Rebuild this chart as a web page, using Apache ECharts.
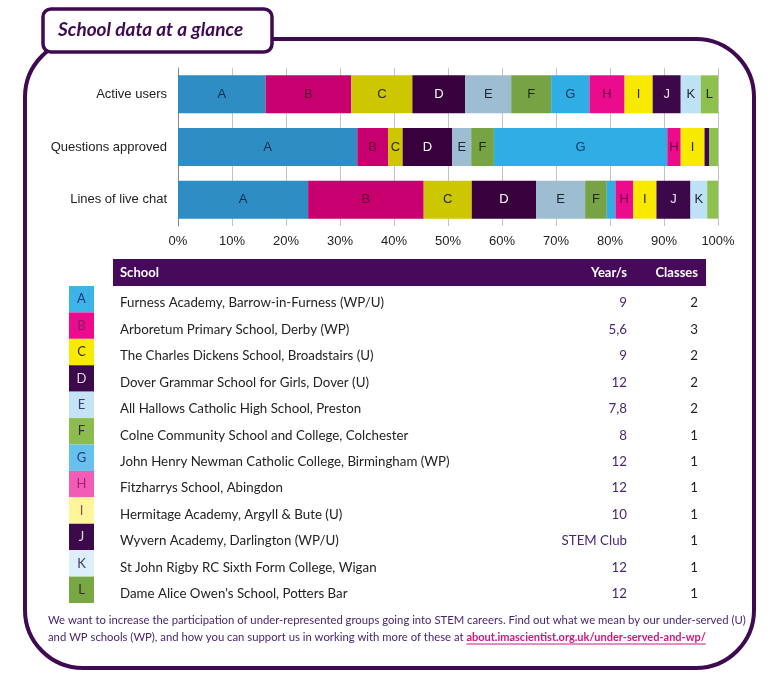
<!DOCTYPE html>
<html>
<head>
<meta charset="utf-8">
<script src="https://cdn.jsdelivr.net/npm/echarts@6/dist/echarts.min.js"></script>
<style>html,body{margin:0;padding:0;background:#fff;}#c{width:775px;height:677px;}</style>
</head>
<body>
<div id="c"></div>
<script>
// ---- data ----
const categories = ['Active users', 'Questions approved', 'Lines of live chat'];
const letters = ['A', 'B', 'C', 'D', 'E', 'F', 'G', 'H', 'I', 'J', 'K', 'L'];
const activeUsers = [16.2, 15.9, 11.3, 9.8, 8.5, 7.4, 7.1, 6.5, 5.2, 5.2, 3.7, 3.2];
const questionsApproved = [33.2, 5.7, 2.7, 9.2, 3.5, 4.2, 32.1, 2.5, 4.4, 0.9, 0, 1.6];
const liveChat = [24.1, 21.4, 8.9, 11.9, 9.1, 4.0, 1.6, 3.3, 4.3, 6.3, 3.1, 2.0];

const schools = [
  'Furness Academy, Barrow-in-Furness (WP/U)',
  'Arboretum Primary School, Derby (WP)',
  'The Charles Dickens School, Broadstairs (U)',
  'Dover Grammar School for Girls, Dover (U)',
  'All Hallows Catholic High School, Preston',
  'Colne Community School and College, Colchester',
  'John Henry Newman Catholic College, Birmingham (WP)',
  'Fitzharrys School, Abingdon',
  'Hermitage Academy, Argyll & Bute (U)',
  'Wyvern Academy, Darlington (WP/U)',
  'St John Rigby RC Sixth Form College, Wigan',
  "Dame Alice Owen's School, Potters Bar"
];
const years = ['9', '5,6', '9', '12', '7,8', '8', '12', '12', '10', 'STEM Club', '12', '12'];
const classes = ['2', '3', '2', '2', '2', '1', '1', '1', '1', '1', '1', '1'];
const tableHeader = ['School', 'Year/s', 'Classes'];
const titleText = 'School data at a glance';
const footer1 = 'We want to increase the participation of under-represented groups going into STEM careers. Find out what we mean by our under-served (U)';
const footer2a = 'and WP schools (WP), and how you can support us in working with more of these at ';
const footer2b = 'about.imascientist.org.uk/under-served-and-wp/';

// ---- styles ----
const barColors = ['#2E8DC2', '#C8006F', '#CCC700', '#38003D', '#9DBDD2', '#77A344', '#2FAEE6', '#EB0C8D', '#F7EA00', '#3C0849', '#BFE1F5', '#8DC04D'];
const barLabelColors = ['#142c4a', '#5e0536', '#2a2a10', '#ffffff', '#1e2430', '#1d2a10', '#173a60', '#6a0540', '#2a2a10', '#f0e0f0', '#1e2430', '#1d2a10'];
const swatchColors = ['#3DB4E6', '#EC0B8D', '#F8EA00', '#3C0A4A', '#C4E4F6', '#8CBC4E', '#66C2EC', '#F25CB4', '#FFF59A', '#3C0A4A', '#DCEFFA', '#77A843'];
const swatchText = ['#27357a', '#8a1a6a', '#3a2a4a', '#e0d8e8', '#3a3a7a', '#3a2a3a', '#2a3a8a', '#a0207a', '#7a5a4a', '#e0d8e8', '#3a3a6a', '#3a2a2a'];
const purple = '#3F0A52';
const tableFont = 'Lato';
const footNormalFont = '11.3px Lato';
const footLinkFont = 'bold 11px Lato';

// text measuring for the link underline
const mctx = document.createElement('canvas').getContext('2d');
function tw(text, font) { mctx.font = font; return mctx.measureText(text).width; }
const linkX = 48 + tw(footer2a, footNormalFont);
const linkW = tw(footer2b, footLinkFont);

const chart = echarts.init(document.getElementById('c'), null, {renderer: 'canvas'});

const barSeries = letters.map((l, i) => ({
  name: l,
  type: 'bar',
  stack: 'total',
  xAxisIndex: 0,
  yAxisIndex: 0,
  barWidth: 38,
  data: [activeUsers[i], questionsApproved[i], liveChat[i]],
  itemStyle: {color: barColors[i]},
  label: {
    show: true,
    position: 'inside',
    color: barLabelColors[i],
    fontFamily: 'Liberation Sans',
    fontSize: 13,
    formatter: p => (p.value >= 2.2 ? l : '')
  },
  emphasis: {disabled: true},
  animation: false
}));

const swatchSeries = {
  type: 'bar',
  xAxisIndex: 1,
  yAxisIndex: 1,
  barWidth: '100%',
  data: letters.map((l, i) => ({
    value: 1,
    itemStyle: {color: swatchColors[i]},
    label: {color: swatchText[i]}
  })),
  label: {show: true, position: 'inside', formatter: '{b}', fontFamily: tableFont, fontSize: 13},
  animation: false
};

const cellLabel = {fontFamily: tableFont, fontSize: 13.3};

chart.setOption({
  animation: false,
  grid: [
    {left: 178, width: 540, top: 68, height: 158},
    {left: 69, width: 25, top: 286, height: 317},
    {left: 113, width: 593, top: 290, height: 317}
  ],
  xAxis: [
    {
      gridIndex: 0, type: 'value', min: 0, max: 100, interval: 10,
      axisLine: {show: false}, axisTick: {show: false},
      splitLine: {lineStyle: {color: '#c4c4c4', width: 1}},
      axisLabel: {formatter: '{value}%', color: '#222', fontFamily: 'Liberation Sans', fontSize: 13, margin: 9}
    },
    {gridIndex: 1, type: 'value', min: 0, max: 1, show: false},
    {gridIndex: 2, type: 'value', min: 0, max: 1, show: false}
  ],
  yAxis: [
    {
      gridIndex: 0, type: 'category', data: categories, inverse: true,
      axisLine: {lineStyle: {color: '#888'}},
      axisTick: {length: 3, lineStyle: {color: '#888'}},
      axisLabel: {color: '#222', fontFamily: 'Liberation Sans', fontSize: 13, margin: 11}
    },
    {gridIndex: 1, type: 'category', data: letters, inverse: true, show: false},
    {
      gridIndex: 2, type: 'category', data: schools, inverse: true, position: 'left',
      axisLine: {show: false}, axisTick: {show: false},
      axisLabel: Object.assign({inside: true, margin: 7, color: '#222'}, cellLabel)
    },
    {
      gridIndex: 2, type: 'category', data: years, inverse: true, position: 'right',
      axisLine: {show: false}, axisTick: {show: false},
      axisLabel: Object.assign({inside: true, margin: 79, color: '#4B2470'}, cellLabel)
    },
    {
      gridIndex: 2, type: 'category', data: classes, inverse: true, position: 'right',
      axisLine: {show: false}, axisTick: {show: false},
      axisLabel: Object.assign({inside: true, margin: 8, color: '#222'}, cellLabel)
    }
  ],
  series: barSeries.concat([swatchSeries]),
  graphic: [
    {type: 'rect', z: 0, shape: {x: 25, y: 39, width: 729, height: 629, r: 58},
      style: {fill: 'none', stroke: purple, lineWidth: 4}},
    {type: 'rect', z: 1, shape: {x: 43, y: 9, width: 229, height: 43, r: 8},
      style: {fill: '#fff', stroke: purple, lineWidth: 3.5}},
    {type: 'text', z: 2, x: 58, y: 30,
      style: {text: titleText, fill: purple, font: 'italic bold 19px Lato', textVerticalAlign: 'middle'}},
    {type: 'rect', z: 1, shape: {x: 113, y: 259, width: 593, height: 27},
      style: {fill: '#47095A'}},
    {type: 'text', z: 2, x: 120, y: 273,
      style: {text: tableHeader[0], fill: '#fff', font: 'bold 13px Lato', textVerticalAlign: 'middle'}},
    {type: 'text', z: 2, x: 627, y: 273,
      style: {text: tableHeader[1], fill: '#fff', font: 'bold 13px Lato', textAlign: 'right', textVerticalAlign: 'middle'}},
    {type: 'text', z: 2, x: 698, y: 273,
      style: {text: tableHeader[2], fill: '#fff', font: 'bold 13px Lato', textAlign: 'right', textVerticalAlign: 'middle'}},
    {type: 'text', z: 2, x: 48, y: 620,
      style: {text: footer1, fill: '#4A2470', font: footNormalFont, textVerticalAlign: 'middle'}},
    {type: 'text', z: 2, x: 48, y: 637,
      style: {
        text: '{n|' + footer2a + '}{l|' + footer2b + '}',
        textVerticalAlign: 'middle',
        rich: {
          n: {fill: '#4A2470', font: footNormalFont},
          l: {fill: '#D4157F', font: footLinkFont}
        }
      }},
    {type: 'line', z: 2, shape: {x1: linkX, y1: 644, x2: linkX + linkW, y2: 644},
      style: {stroke: '#D4157F', lineWidth: 1}}
  ]
});
</script>
</body>
</html>
